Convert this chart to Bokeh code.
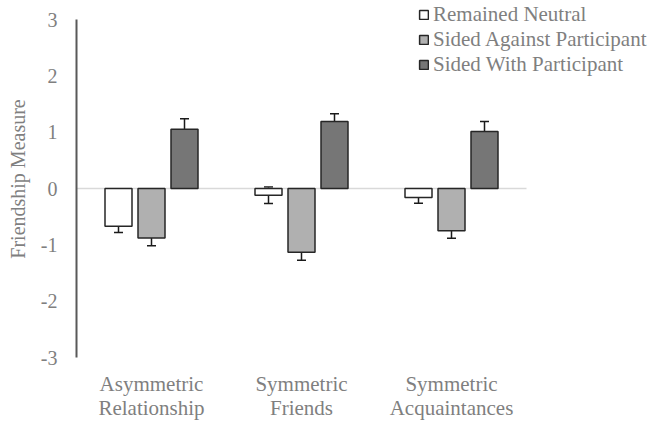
from bokeh.plotting import figure
from bokeh.models import (ColumnDataSource, Whisker, TeeHead, FixedTicker, LinearAxis,
                          Legend, LegendItem, Range1d)
from bokeh.embed import file_html
from bokeh.resources import INLINE

categories = ["Asymmetric\nRelationship", "Symmetric\nFriends", "Symmetric\nAcquaintances"]
series = ["Remained Neutral", "Sided Against Participant", "Sided With Participant"]
neutral = [-0.67, -0.12, -0.16]
neutral_err = [0.11, 0.145, 0.10]
against = [-0.88, -1.13, -0.75]
against_err = [0.135, 0.145, 0.135]
with_p = [1.05, 1.19, 1.01]
with_err = [0.19, 0.135, 0.18]
y_ticks = [-3, -2, -1, 0, 1, 2, 3]

fills = ["#ffffff", "#b0b0b0", "#767676"]
offsets = [-0.22, 0.0, 0.22]
bar_w = 0.18
FONT = "Liberation Serif"
TXT = "#7f7f7f"

W, H = 652, 422
left, top_b = 76, 0
px_per_unit = 338 / 6.0
frame_h = 338 + 19
bottom_b = H - top_b - frame_h
frame_w = W - left
x_end = 3 * frame_w / 450.0
y_end = 3 + 19 / px_per_unit

p = figure(width=W, height=H, output_backend="svg", toolbar_location=None,
           x_range=Range1d(0, x_end), y_range=Range1d(-3, y_end),
           min_border_left=left, min_border_right=0, min_border_top=top_b,
           min_border_bottom=bottom_b, y_axis_location=None, x_axis_location=None)
p.outline_line_color = None
p.xgrid.visible = False
p.ygrid.visible = False
p.background_fill_color = "white"

centers = [i + 0.5 for i in range(len(categories))]

# zero line
p.segment(x0=[0], y0=[0], x1=[len(categories)], y1=[0], line_color="#d9d9d9", line_width=1.5)

items = []
for k, (vals, errs) in enumerate([(neutral, neutral_err), (against, against_err), (with_p, with_err)]):
    xs = [c + offsets[k] for c in centers]
    src = ColumnDataSource(dict(x=xs, top=vals,
                                upper=[v + e for v, e in zip(vals, errs)],
                                lower=[v - e for v, e in zip(vals, errs)]))
    r = p.vbar(x="x", top="top", bottom=0, width=bar_w, source=src,
               fill_color=fills[k], line_color="#262626", line_width=1.5)
    items.append(LegendItem(label=series[k], renderers=[r]))
    wh = Whisker(base="x", upper="upper", lower="lower", source=src,
                 line_color="#1a1a1a", line_width=1.5,
                 upper_head=TeeHead(size=9, line_color="#1a1a1a", line_width=1.5),
                 lower_head=TeeHead(size=9, line_color="#1a1a1a", line_width=1.5))
    p.add_layout(wh)

yax = LinearAxis(bounds=(-3, 3), ticker=FixedTicker(ticks=y_ticks),
                 major_label_overrides={t: str(t) for t in y_ticks},
                 axis_line_color="#595959", axis_line_width=2,
                 major_tick_line_color=None, minor_tick_line_color=None,
                 major_tick_out=0, major_tick_in=0,
                 major_label_text_font=FONT, major_label_text_font_size="20px",
                 major_label_text_color=TXT, major_label_standoff=19,
                 axis_label="Friendship Measure", axis_label_text_font=FONT,
                 axis_label_text_font_size="20px", axis_label_text_color=TXT,
                 axis_label_text_font_style="normal", axis_label_standoff=9)
p.add_layout(yax, "left")

xax = LinearAxis(ticker=FixedTicker(ticks=centers),
                 major_label_overrides={c: lab for c, lab in zip(centers, categories)},
                 axis_line_color=None, major_tick_line_color=None, minor_tick_line_color=None,
                 major_tick_out=0, major_tick_in=0,
                 major_label_text_font=FONT, major_label_text_font_size="21px",
                 major_label_text_line_height=1.0,
                 major_label_text_color=TXT, major_label_standoff=14)
p.add_layout(xax, "below")

legend = Legend(items=items, location=(342, 280), orientation="vertical",
                label_text_font=FONT, label_text_font_size="21px", label_text_color=TXT,
                glyph_width=11, glyph_height=11, label_standoff=4, spacing=0,
                padding=0, margin=0, border_line_color=None, background_fill_alpha=0,
                label_height=22)
p.add_layout(legend)

open("out.html", "w").write(file_html(p, INLINE))
